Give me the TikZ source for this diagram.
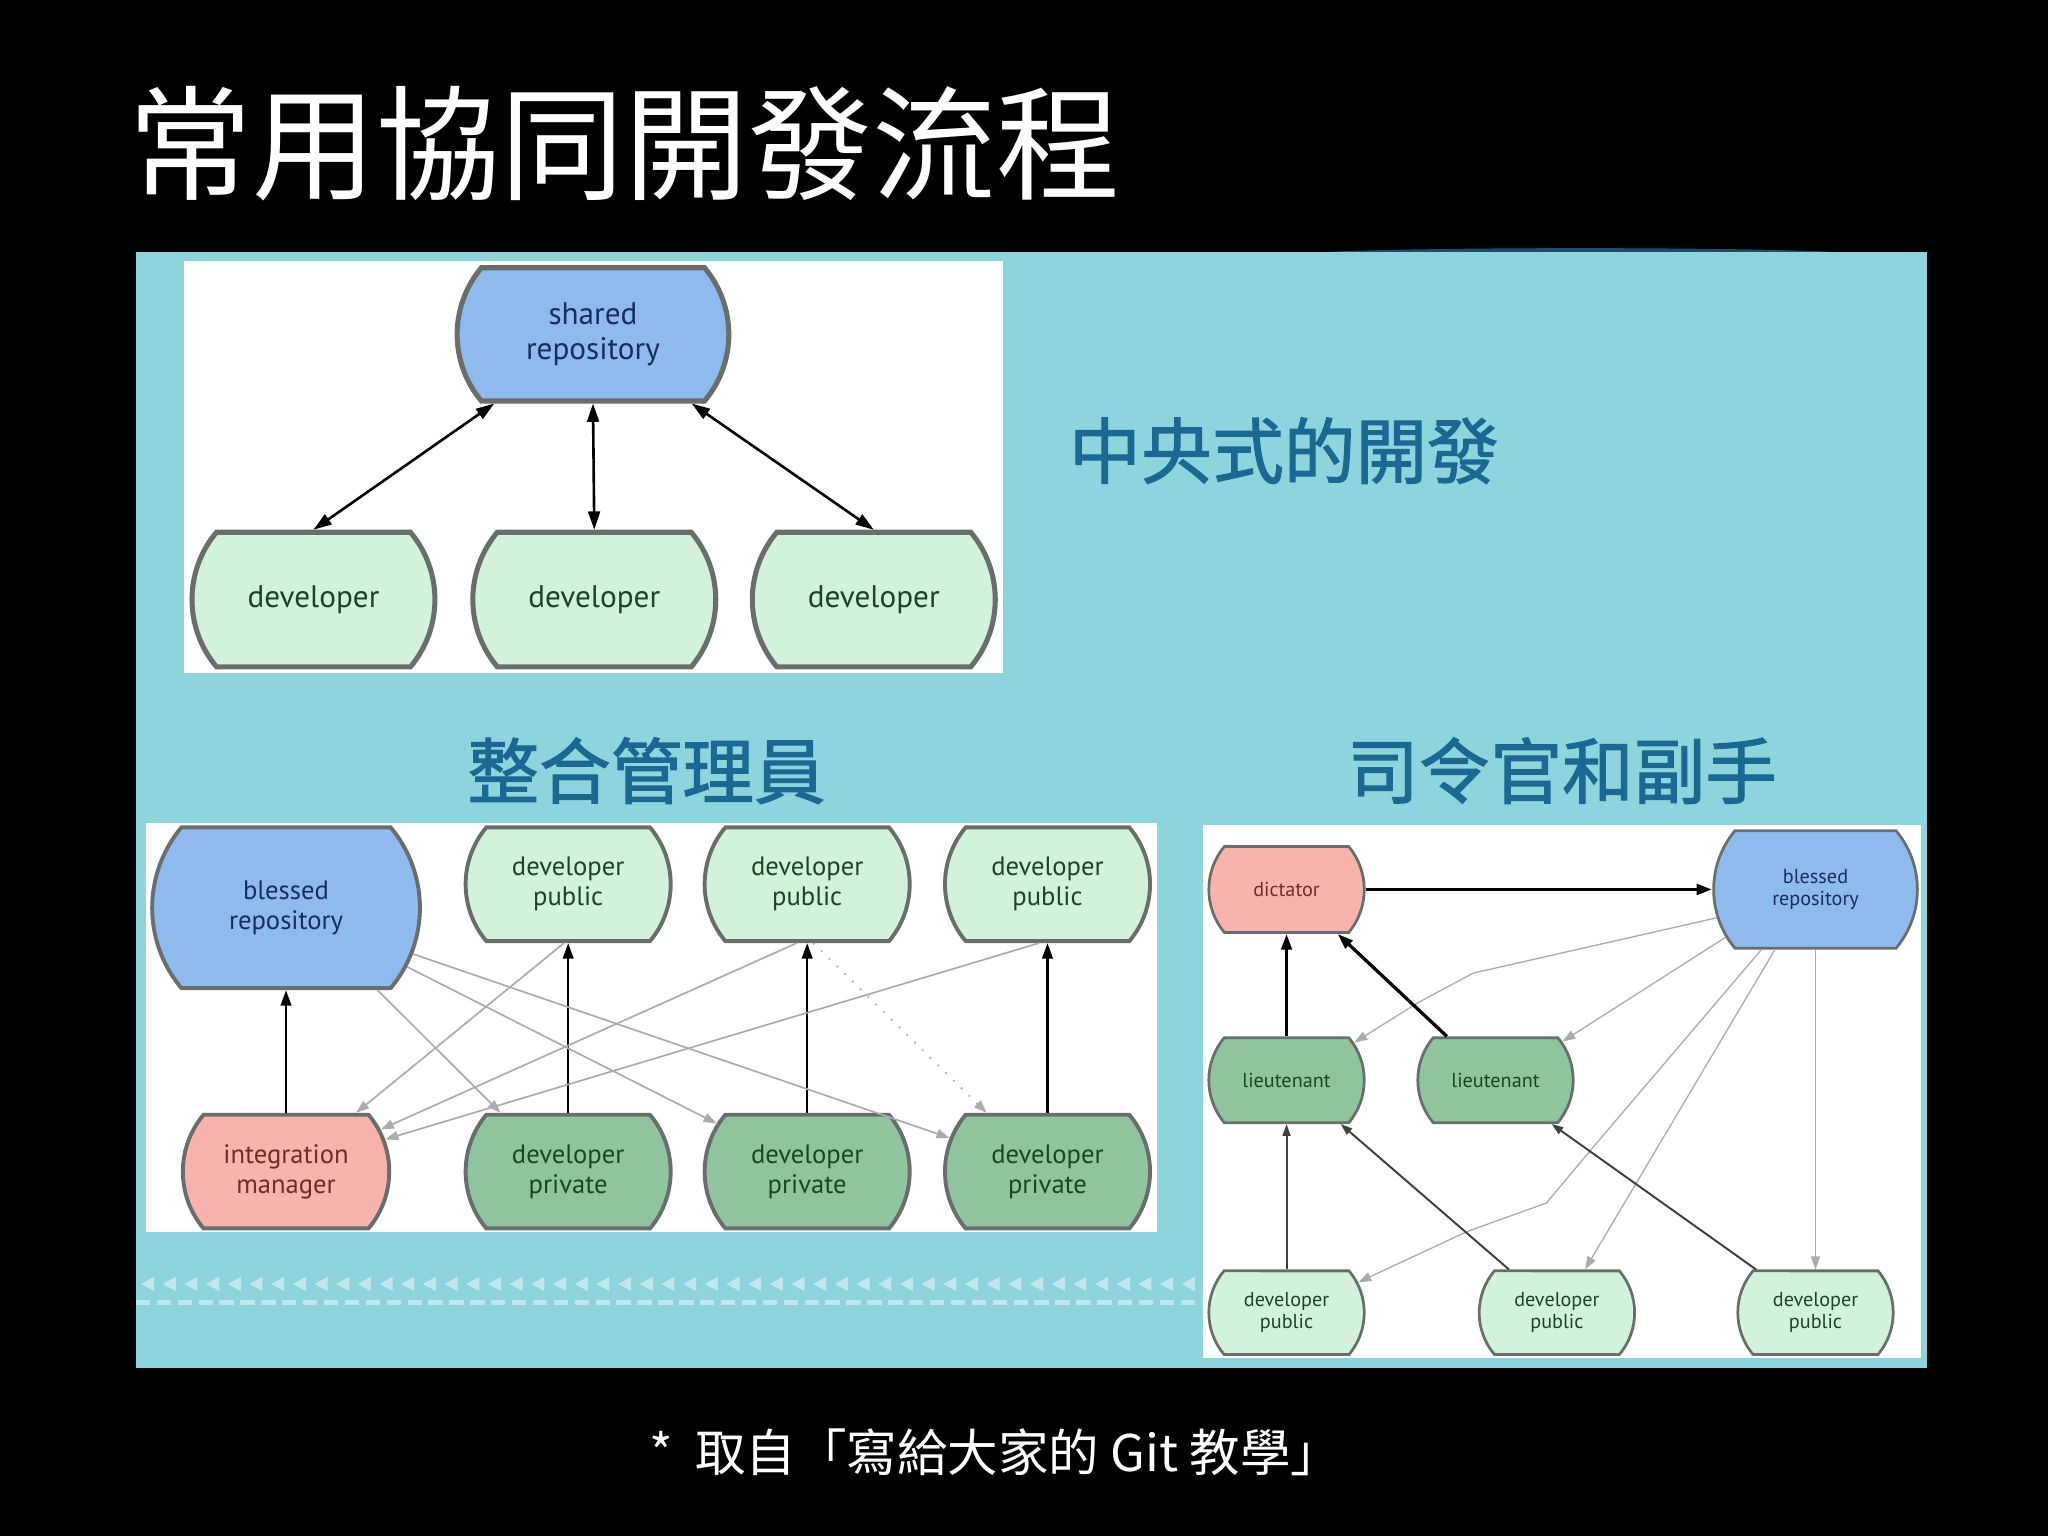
\documentclass[tikz,border=0pt]{standalone}
\usepackage{fontspec}
\setmainfont{PT Sans}
\newfontfamily\cjk{Noto Sans CJK TC}
\newfontfamily\cjkhead[FakeBold=1.6]{Noto Sans CJK TC}
\usetikzlibrary{shapes.misc,arrows.meta}

\tikzset{
  box/.style={rounded rectangle, rounded rectangle arc length=80,
    draw=nodeedge, align=center, inner sep=0pt},
  repo/.style={box, fill=repoblue, text=repotext},
  pub/.style={box, fill=pubgreen, text=devtext},
  priv/.style={box, fill=privgreen, text=devtext},
  boss/.style={box, fill=bosspink, text=bosstext},
  bigbox/.style={line width=1.1pt, font=\fontsize{6.8}{7.7}\selectfont},
  midbox/.style={line width=0.85pt, font=\fontsize{5.8}{6.5}\selectfont},
  smallbox/.style={line width=0.6pt, font=\fontsize{4.4}{4.9}\selectfont},
  sync/.style={line width=0.2mm, {Triangle[length=1.4mm,width=0.9mm]}-{Triangle[length=1.4mm,width=0.9mm]}},
  push/.style={line width=0.2mm, -{Triangle[length=1.2mm,width=0.8mm]}},
  pull/.style={line width=0.13mm, draw=pullgray, -{Triangle[length=1mm,width=0.7mm,fill=pullgray]}},
  heading/.style={text=headteal, font=\cjkhead\fontsize{15.6}{18}\selectfont, inner sep=0pt},
}

\begin{document}
\begin{tikzpicture}[x=0.1mm, y=-0.1mm]

% Units are pixels of the slide at 1568 x 1176, y pointing down.

% ── Colours ──────────────────────────────────────────────────────────────────
\definecolor{slidecyan}{RGB}{141,212,221}
\definecolor{curlshadow}{RGB}{40,95,135}
\definecolor{repoblue}{RGB}{143,186,238}
\definecolor{pubgreen}{RGB}{210,243,218}
\definecolor{privgreen}{RGB}{143,196,158}
\definecolor{bosspink}{RGB}{248,180,172}
\definecolor{nodeedge}{RGB}{105,110,108}
\definecolor{repotext}{RGB}{25,45,95}
\definecolor{devtext}{RGB}{25,70,35}
\definecolor{bosstext}{RGB}{110,45,40}
\definecolor{headteal}{RGB}{27,105,146}
\definecolor{pullgray}{RGB}{170,172,172}

% ── Slide ────────────────────────────────────────────────────────────────────
\fill[black] (0,0) rectangle (1568,1176);
\useasboundingbox (0,0) rectangle (1568,1176);

\node[anchor=west, inner sep=0pt, text=white,
  font=\cjk\fontsize{27}{30}\selectfont] (title) at (98,110) {常用協同開發流程};

% curled edge shadow, then the cyan board
\fill[curlshadow, opacity=0.8] (1210,195) ellipse (215 and 5);
\fill[slidecyan] (104,193) rectangle (1475,1047);

% decorative strip near the bottom
\foreach \x in {108,124.6,...,910}
  \fill[white, opacity=0.45] (\x,983) -- (\x+10,977.5) -- (\x+10,988.5) -- cycle;
\draw[white, opacity=0.45, line width=0.4mm, dash pattern=on 1.1mm off 0.5mm]
  (104,997) -- (920,997);

% ── Centralized workflow ─────────────────────────────────────────────────────
\fill[white] (141,200) rectangle (768,515);

\node[repo, bigbox, minimum width=20.8mm, minimum height=10.2mm] (shared) at (454,256)
  {shared\\repository};
\foreach \n/\x in {1/240, 2/455, 3/669}
  \node[pub, bigbox, minimum width=18.6mm, minimum height=10.3mm] (dev\n) at (\x,459)
    {developer};

\draw[sync] (dev1.north) -- (shared.215);
\draw[sync] (dev2.north) -- (shared.south);
\draw[sync] (dev3.north) -- (shared.325);

\node[heading] (central) at (983,345) {中央式的開發};

% ── Integration-manager workflow ─────────────────────────────────────────────
\node[heading] (integhead) at (495,590) {整合管理員};
\fill[white] (112,630) rectangle (886,943);

\node[repo, midbox, minimum width=20.5mm, minimum height=12.3mm] (blessA) at (219,695)
  {blessed\\repository};
\node[boss, midbox, minimum width=15.8mm, minimum height=8.7mm] (integ) at (219,897)
  {integration\\manager};
\foreach \n/\x in {A/435, B/618, C/802} {
  \node[pub, midbox, minimum width=15.7mm, minimum height=8.7mm] (pub\n) at (\x,677)
    {developer\\public};
  \node[priv, midbox, minimum width=15.7mm, minimum height=8.7mm] (priv\n) at (\x,897)
    {developer\\private};
  \draw[push] (priv\n.north) -- (pub\n.south);
}
\draw[push] (integ.north) -- (blessA.south);

% pulls (grey)
\draw[pull] (blessA.318) -- (privA.139);
\draw[pull] (blessA.334) -- (privB.152);
\draw[pull] (blessA.340) -- (privC.161);
\draw[pull] (pubA.266) -- (integ.40);
\draw[pull] (pubB.260) -- (integ.24);
\draw[pull] (pubC.262) -- (integ.18);
\draw[pull, dotted] (pubB.276) -- (privC.136);

% ── Dictator and lieutenants workflow ────────────────────────────────────────
\node[heading] (dicthead) at (1196,590) {司令官和副手};
\fill[white] (921,632) rectangle (1471,1040);

\node[boss, smallbox, minimum width=11.9mm, minimum height=6.6mm] (dict) at (985,681)
  {dictator};
\node[repo, smallbox, minimum width=15.6mm, minimum height=9mm] (blessB) at (1390,681)
  {blessed\\repository};
\node[priv, smallbox, minimum width=11.9mm, minimum height=6.5mm] (ltA) at (985,827)
  {lieutenant};
\node[priv, smallbox, minimum width=11.9mm, minimum height=6.5mm] (ltB) at (1145,827)
  {lieutenant};
\foreach \n/\x in {A/985, B/1192, C/1390}
  \node[pub, smallbox, minimum width=11.9mm, minimum height=6.4mm] (dp\n) at (\x,1005)
    {developer\\public};

% pulls from the blessed repository (grey, hopping over the pushes)
\draw[pull, line width=0.1mm] (blessB.196) -- (1128,745) -- (1085,768) -- (ltA.29);
\draw[pull, line width=0.1mm] (blessB.208) -- (ltB.30);
\draw[pull, line width=0.1mm] (blessB.228) -- (1220,878) -- (1184,921) -- (1123,943)
  -- (dpA.23);
\draw[pull, line width=0.1mm] (blessB.236) -- (dpB.57);
\draw[pull, line width=0.1mm] (blessB.south) -- (dpC.north);

% pushes
\draw[push, line width=0.3mm] (dict.east) -- (blessB.west);
\draw[push, line width=0.25mm] (ltA.north) -- (dict.south);
\draw[push, line width=0.25mm] (ltB.138) -- (dict.319);
\draw[push, line width=0.15mm, black!75, -{Triangle[length=0.9mm,width=0.6mm]}]
  (dpA.north) -- (ltA.south);
\draw[push, line width=0.15mm, black!75, -{Triangle[length=0.9mm,width=0.6mm]}]
  (dpB.138) -- (ltA.321);
\draw[push, line width=0.15mm, black!75, -{Triangle[length=0.9mm,width=0.6mm]}]
  (dpC.144) -- (ltB.322);

% ── Source note ──────────────────────────────────────────────────────────────
\node[text=white, inner sep=0pt, font=\cjk\fontsize{11}{13}\selectfont] (source)
  at (762,1112) {*\ \ 取自「寫給大家的 Git 教學」};

\end{tikzpicture}
\end{document}
